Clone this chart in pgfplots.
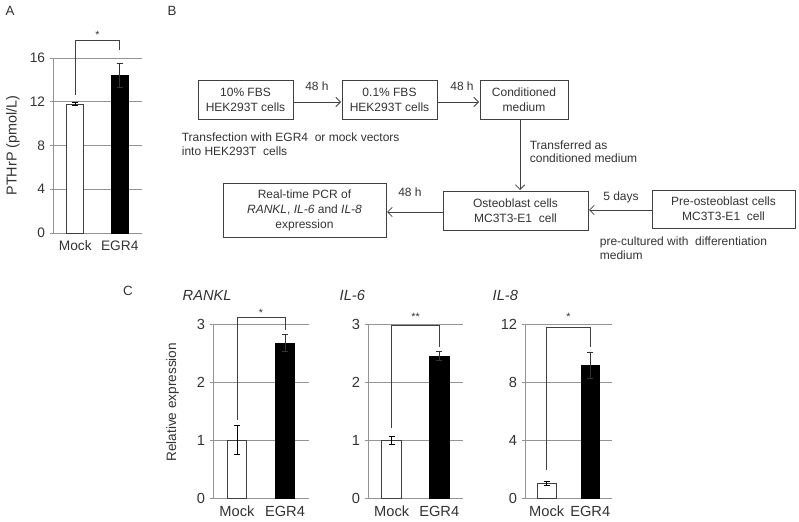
\documentclass[border=0pt]{standalone}
\usepackage{fontspec}
\setmainfont{Liberation Sans}
\usepackage{pgfplots}
\pgfplotsset{compat=1.18}
\usetikzlibrary{arrows.meta}

\definecolor{txt}{gray}{0.2}
\definecolor{gridc}{gray}{0.58}

\tikzset{brk/.style={black!75, line width=0.6pt}}

\pgfplotsset{
  barpanel/.style={
    scale only axis, anchor=south west,
    xmin=0.5, xmax=2.5, ymin=0,
    axis x line*=bottom, axis y line*=left,
    axis line style={gridc, line width=0.6pt, -},
    ymajorgrids, grid style={gridc, line width=0.6pt},
    xtick={1,2}, xticklabels={Mock,EGR4},
    x tick style={draw=none},
    y tick style={gridc, line width=0.6pt},
    tick align=outside, major tick length=2.4pt,
    /pgf/number format/assume math mode=true,
    tick label style={text=txt},
    label style={text=txt},
    clip=false,
  },
  mockbar/.style={ybar, bar shift=0pt, draw=black!75, fill=white, line width=0.6pt,
    error bars/.cd, y dir=both, y explicit,
    error bar style={black, line width=0.6pt},
    error mark options={rotate=90, black, mark size=2.4pt, line width=0.6pt}},
  egrbar/.style={ybar, bar shift=0pt, draw=black, fill=black, line width=0.6pt,
    error bars/.cd, y dir=both, y explicit,
    error bar style={black!80, line width=0.6pt},
    error mark options={rotate=90, black!80, mark size=2.4pt, line width=0.6pt}},
}

\begin{document}
\begin{tikzpicture}[x=0.75pt, y=-0.75pt]
\path[use as bounding box] (0,0) rectangle (799,521);

% panel letters
\node[font=\fontsize{10}{12}\selectfont, text=txt] at (10,11) {A};
\node[font=\fontsize{10}{12}\selectfont, text=txt] at (172,11) {B};
\node[font=\fontsize{10}{12}\selectfont, text=txt] at (128,291) {C};

% ---- panel A
\begin{axis}[barpanel, at={(39.75pt,-174.75pt)}, width=66.75pt, height=131.25pt,
  ymax=16, ytick={0,4,8,12,16}, bar width=12.75pt,
  tick label style={font=\fontsize{10.3}{12}\selectfont},
  ylabel={PTHrP (pmol/L)},
  ylabel style={font=\fontsize{10.8}{12}\selectfont, at={(axis description cs:-0.45,0.5)}, anchor=center}]
\addplot[mockbar] coordinates {(1,11.8) +- (0,0.15)};
\addplot[egrbar] coordinates {(2,14.4) +- (0,1.1)};
\draw[brk] (axis cs:1,12.6) |- (axis cs:2,17.6) -- (axis cs:2,16.7);
\node[font=\fontsize{8}{9}\selectfont, text=txt] at (axis cs:1.5,18.1) {*};
\end{axis}

% ---- panel B flowchart
\begin{scope}[black!75, line width=0.6pt, font=\fontsize{9}{11.5}\selectfont,
  every node/.style={text=txt}, arr/.style={-{Straight Barb[length=3.5pt, width=7pt]}}]
\draw (198,80) rectangle (293,119);
\node[align=center] at (245.5,100) {10\% FBS\\HEK293T cells};
\draw (342,80) rectangle (437,119);
\node[align=center] at (389.5,100) {0.1\% FBS\\HEK293T cells};
\draw (480,80) rectangle (568,119);
\node[align=center] at (524,100) {Conditioned\\medium};
\draw[arr] (293,102) -- (341,102);
\draw[arr] (437,102) -- (479,102);
\node at (317,86) {48 h};
\node at (462,86) {48 h};
\node[align=left, anchor=west, font=\fontsize{9}{10.5}\selectfont] at (177,144)
  {Transfection with EGR4 \ or mock vectors\\into HEK293T \ cells};
\draw[arr] (520,119) -- (520,190);
\node[align=left, anchor=west, font=\fontsize{9}{10}\selectfont] at (525,152)
  {Transferred as\\conditioned medium};
\draw (223,183) rectangle (386,237);
\node[align=center, font=\fontsize{9}{11.25}\selectfont] at (304.5,210)
  {Real-time PCR of\\\textit{RANKL}, \textit{IL-6} and \textit{IL-8}\\expression};
\draw (443,191) rectangle (588,230);
\node[align=center] at (515.5,210.5) {Osteoblast cells\\MC3T3-E1 \ cell};
\draw[arr] (443,212) -- (387,212);
\node at (410,192) {48 h};
\draw (652,190) rectangle (795,228);
\node[align=center] at (723.5,209) {Pre-osteoblast cells\\MC3T3-E1 \ cell};
\draw[arr] (652,210) -- (589,210);
\node at (621,197) {5 days};
\node[align=left, anchor=west, font=\fontsize{9}{10.5}\selectfont] at (595,248)
  {pre-cultured with \ differentiation\\medium};
\end{scope}

% ---- panel C titles
\node[anchor=west, font=\fontsize{11}{12}\selectfont\itshape, text=txt] at (178,295) {RANKL};
\node[anchor=west, font=\fontsize{11}{12}\selectfont\itshape, text=txt] at (335,295) {IL-6};
\node[anchor=west, font=\fontsize{11}{12}\selectfont\itshape, text=txt] at (488,295) {IL-8};

\begin{axis}[barpanel, at={(159.75pt,-373.5pt)}, width=72pt, height=130.5pt,
  ymax=3, ytick={0,1,2,3}, bar width=14.5pt,
  tick label style={font=\fontsize{11}{12}\selectfont},
  ylabel={Relative expression},
  ylabel style={font=\fontsize{10.2}{12}\selectfont, at={(axis description cs:-0.42,0.55)}, anchor=center}]
\addplot[mockbar] coordinates {(1,1.0) +- (0,0.25)};
\addplot[egrbar] coordinates {(2,2.67) +- (0,0.15)};
\draw[brk] (axis cs:1,1.34) |- (axis cs:2,3.12) -- (axis cs:2,2.9);
\node[font=\fontsize{8}{9}\selectfont, text=txt] at (axis cs:1.5,3.2) {*};
\end{axis}

\begin{axis}[barpanel, at={(276pt,-373.5pt)}, width=71.25pt, height=130.5pt,
  ymax=3, ytick={0,1,2,3}, bar width=15pt,
  tick label style={font=\fontsize{11}{12}\selectfont}]
\addplot[mockbar] coordinates {(1,1.0) +- (0,0.07)};
\addplot[egrbar] coordinates {(2,2.45) +- (0,0.07)};
\draw[brk] (axis cs:1,1.2) |- (axis cs:2,2.97) -- (axis cs:2,2.6);
\node[font=\fontsize{8}{9}\selectfont, text=txt] at (axis cs:1.5,3.13) {**};
\end{axis}

\begin{axis}[barpanel, at={(393.75pt,-373.5pt)}, width=65.25pt, height=130.5pt,
  ymax=12, ytick={0,4,8,12}, bar width=14pt,
  tick label style={font=\fontsize{11}{12}\selectfont}]
\addplot[mockbar] coordinates {(1,1.0) +- (0,0.15)};
\addplot[egrbar] coordinates {(2,9.15) +- (0,0.9)};
\draw[brk] (axis cs:1,1.93) |- (axis cs:2,11.8) -- (axis cs:2,10.4);
\node[font=\fontsize{8}{9}\selectfont, text=txt] at (axis cs:1.5,12.5) {*};
\end{axis}
\end{tikzpicture}
\end{document}
